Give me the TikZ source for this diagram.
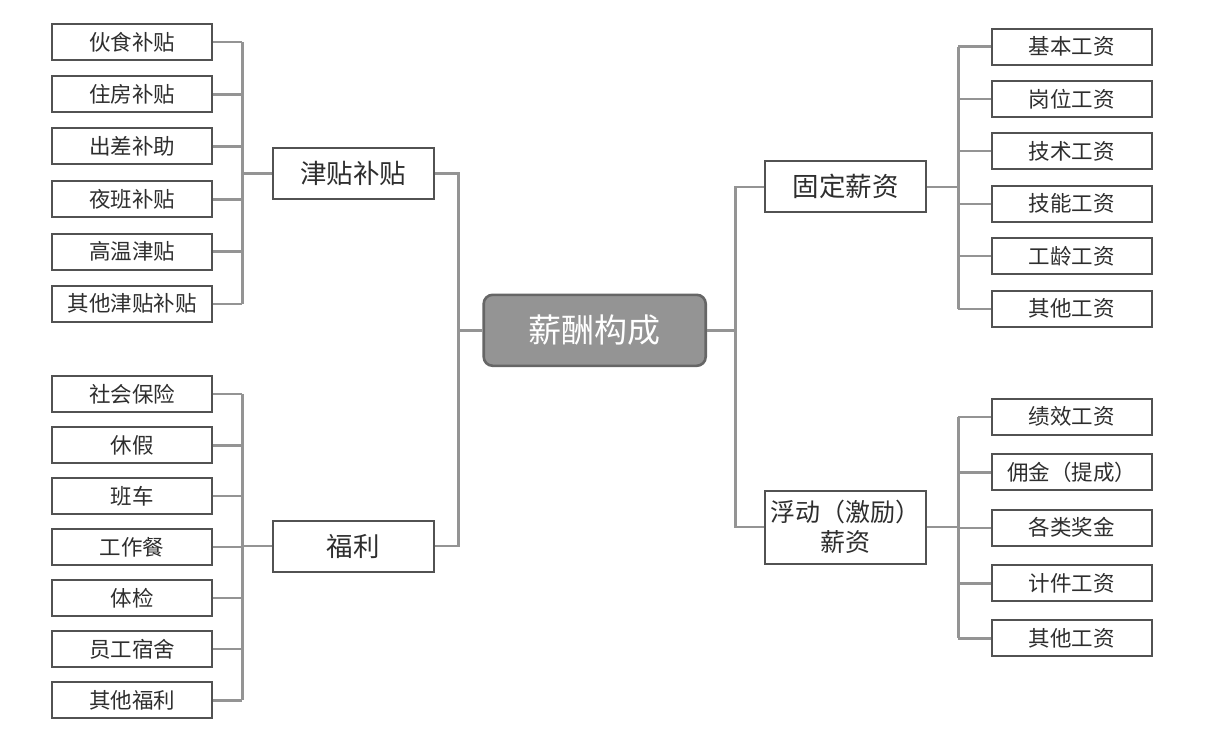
\documentclass[tikz,border=0pt]{standalone}
\usepackage{fontspec}
\setmainfont{Noto Sans CJK SC}
\begin{document}
\begin{tikzpicture}[x=1pt,y=-1pt,
  conn/.style={draw=black!42,line width=2.4pt},
  leaf/.style={draw=black!68,line width=2pt,fill=white,minimum width=160pt,minimum height=36pt,inner sep=0pt,font=\fontsize{21.5}{24}\selectfont,text=black!82},
  mid/.style={draw=black!68,line width=2pt,fill=white,minimum width=161pt,minimum height=51pt,inner sep=0pt,font=\fontsize{26.5}{29}\selectfont,text=black!82},
  hub/.style={draw=black!60,line width=2.6pt,fill=black!42,rounded corners=9pt,minimum width=222pt,minimum height=71pt,inner sep=0pt,font=\fontsize{33}{36}\selectfont,text=white}]
\useasboundingbox (0,0) rectangle (1208,741);
% hub
\node[hub] (hub) at (594.7,330.3) {薪酬构成};
% mid nodes
\node[mid] (jt) at (353.3,173.6) {津贴补贴};
\node[mid] (fl) at (353.3,546.2) {福利};
\node[mid] (gd) at (845.8,186.8) {固定薪资};
\node[mid,minimum height=73pt,align=center,font=\fontsize{25}{30}\selectfont] (fd) at (845.8,527.2) {浮动（激励）\\薪资};
% left top leaves
\node[leaf] (a1) at (132.2,42.3) {伙食补贴};
\node[leaf] (a2) at (132.2,94.4) {住房补贴};
\node[leaf] (a3) at (132.2,146.5) {出差补助};
\node[leaf] (a4) at (132.2,199.3) {夜班补贴};
\node[leaf] (a5) at (132.2,251.5) {高温津贴};
\node[leaf] (a6) at (132.2,303.8) {其他津贴补贴};
% left bottom leaves
\node[leaf] (b1) at (132.2,393.9) {社会保险};
\node[leaf] (b2) at (132.2,445.3) {休假};
\node[leaf] (b3) at (132.2,496.0) {班车};
\node[leaf] (b4) at (132.2,547.0) {工作餐};
\node[leaf] (b5) at (132.2,598.0) {体检};
\node[leaf] (b6) at (132.2,649.2) {员工宿舍};
\node[leaf] (b7) at (132.2,700.3) {其他福利};
% right top leaves
\node[leaf] (c1) at (1071.7,46.6) {基本工资};
\node[leaf] (c2) at (1071.7,99.2) {岗位工资};
\node[leaf] (c3) at (1071.7,151.3) {技术工资};
\node[leaf] (c4) at (1071.7,203.7) {技能工资};
\node[leaf] (c5) at (1071.7,256.2) {工龄工资};
\node[leaf] (c6) at (1071.7,308.7) {其他工资};
% right bottom leaves
\node[leaf] (d1) at (1071.7,416.7) {绩效工资};
\node[leaf] (d2) at (1071.7,472.3) {佣金（提成）};
\node[leaf] (d3) at (1071.7,527.7) {各类奖金};
\node[leaf] (d4) at (1071.7,583.3) {计件工资};
\node[leaf] (d5) at (1071.7,638.3) {其他工资};
% bus coordinates
\coordinate (busA) at (242.3,0);
\coordinate (busC) at (958.3,0);
\coordinate (vL) at (458.5,0);
\coordinate (vR) at (735.5,0);
% connectors left top
\foreach \n in {a1,a2,a3,a4,a5,a6} {\draw[conn] (\n.east) -- (\n.east -| busA);}
\draw[conn] (a1.east -| busA) -- (a6.east -| busA);
\draw[conn] (jt.west) -- (jt.west -| busA);
% left bottom
\foreach \n in {b1,b2,b3,b4,b5,b6,b7} {\draw[conn] (\n.east) -- (\n.east -| busA);}
\draw[conn] (b1.east -| busA) -- (b7.east -| busA);
\draw[conn] (fl.west) -- (fl.west -| busA);
% right top
\foreach \n in {c1,c2,c3,c4,c5,c6} {\draw[conn] (\n.west) -- (\n.west -| busC);}
\draw[conn] (c1.west -| busC) -- (c6.west -| busC);
\draw[conn] (gd.east) -- (gd.east -| busC);
% right bottom
\foreach \n in {d1,d2,d3,d4,d5} {\draw[conn] (\n.west) -- (\n.west -| busC);}
\draw[conn] (d1.west -| busC) -- (d5.west -| busC);
\draw[conn] (fd.east) -- (fd.east -| busC);
% hub connectors
\draw[conn] (jt.east) -- (jt.east -| vL) -- (fl.east -| vL) -- (fl.east);
\draw[conn] (hub.west) -- (hub.west -| vL);
\draw[conn] (gd.west) -- (gd.west -| vR) -- (fd.west -| vR) -- (fd.west);
\draw[conn] (hub.east) -- (hub.east -| vR);
\end{tikzpicture}
\end{document}
